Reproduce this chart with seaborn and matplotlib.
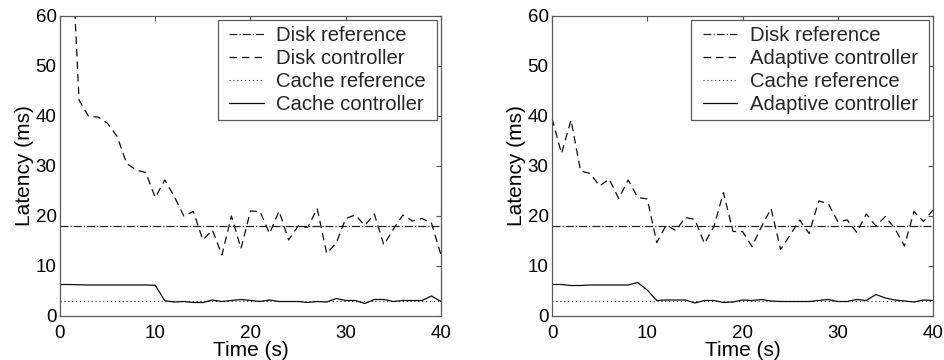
import numpy as np
import pandas as pd
import matplotlib
matplotlib.use("Agg")
import matplotlib.pyplot as plt
from matplotlib.legend_handler import HandlerLine2D
from matplotlib.lines import Line2D
import seaborn as sns

# ---------------- data ----------------
time_s = list(range(0, 41))

disk_ref = 18.0
cache_ref = 3.0

# left panel: separate controllers
disk_ctrl = [130, 83, 43.2, 39.9, 39.8, 38.5, 35.9, 30.5, 29.2, 28.7,
             23.7, 27.2, 23.9, 20.0, 20.9, 15.2, 17.2, 12.2, 20.0, 13.5,
             21.0, 20.9, 16.5, 21.0, 15.2, 18.0, 17.7, 21.5, 12.5, 14.6,
             19.5, 20.2, 18.1, 20.4, 14.2, 17.4, 20.2, 19.0, 19.5, 18.6,
             12.2]
cache_ctrl = [6.3, 6.3, 6.25, 6.2, 6.2, 6.2, 6.2, 6.2, 6.2, 6.2,
              6.15, 3.05, 2.8, 2.9, 2.7, 2.7, 3.2, 2.9, 3.1, 3.3,
              3.1, 2.9, 3.2, 2.9, 2.9, 2.9, 2.7, 2.9, 2.8, 3.5,
              3.1, 3.1, 2.5, 3.3, 3.3, 2.9, 3.1, 3.1, 3.1, 4.0,
              2.9]

# right panel: adaptive controller
adapt_disk = [39.5, 32.5, 39.2, 29.0, 28.5, 26.0, 27.4, 23.5, 27.2, 23.7,
              23.4, 14.7, 18.2, 17.1, 19.7, 19.3, 14.5, 17.9, 24.7, 16.9,
              16.9, 13.9, 17.9, 21.5, 13.3, 16.2, 19.2, 16.5, 23.0, 22.5,
              18.9, 19.2, 16.7, 20.4, 18.0, 19.9, 17.5, 14.0, 20.9, 18.9,
              21.2]
adapt_cache = [6.3, 6.3, 6.1, 6.1, 6.2, 6.2, 6.2, 6.2, 6.2, 6.7,
               5.2, 3.1, 3.2, 3.2, 3.2, 2.6, 3.1, 3.1, 2.7, 2.8,
               3.2, 3.1, 3.3, 3.0, 2.9, 2.9, 2.9, 2.9, 3.1, 3.3,
               2.9, 2.9, 3.3, 3.1, 4.3, 3.6, 3.2, 3.0, 2.8, 3.2,
               3.1]

left_labels = ["Disk reference", "Disk controller", "Cache reference", "Cache controller"]
right_labels = ["Disk reference", "Adaptive controller", "Cache reference", "Adaptive controller"]

x_ticks = [0, 10, 20, 30, 40]
y_ticks = [0, 10, 20, 30, 40, 50, 60]

# ---------------- style ----------------
sns.set_theme(style="white")
plt.rcParams["font.family"] = ["Liberation Sans", "DejaVu Sans"]

FRAME = "0.35"

fig = plt.figure(figsize=(9.45, 3.6), dpi=100)
W, H = 945.0, 360.0
ax_left = fig.add_axes([60 / W, 44 / H, 381 / W, 300 / H])
ax_right = fig.add_axes([552 / W, 44 / H, 381 / W, 300 / H])

styles = ["-.", (0, (6, 4)), (0, (1, 2.5)), "-"]


def draw(ax, disk_series, cache_series, labels):
    t_ends = [time_s[0], time_s[-1]]
    sns.lineplot(x=t_ends, y=[disk_ref, disk_ref], ax=ax, color="0.15",
                 linestyle=styles[0], linewidth=0.9, label=labels[0] + " ")
    sns.lineplot(x=time_s, y=disk_series, ax=ax, color="0.05",
                 linestyle=styles[1], linewidth=0.9, label=labels[1] + " ")
    sns.lineplot(x=t_ends, y=[cache_ref, cache_ref], ax=ax, color="0.2",
                 linestyle=styles[2], linewidth=0.8, label=labels[2] + " ")
    sns.lineplot(x=time_s, y=cache_series, ax=ax, color="0.05",
                 linestyle=styles[3], linewidth=0.9, label=labels[3] + " ")

    ax.set_xlim(0, 40)
    ax.set_ylim(0, 60)
    ax.set_xticks(x_ticks)
    ax.set_yticks(y_ticks)
    ax.tick_params(direction="in", top=True, right=True, length=3.5,
                   width=0.8, color=FRAME, labelsize=13.5, labelcolor="black")
    ax.tick_params(axis="x", pad=6.5)
    ax.tick_params(axis="y", pad=2.5)
    for sp in ax.spines.values():
        sp.set_color(FRAME)
        sp.set_linewidth(0.9)
    ax.set_xlabel("Time (s)", fontsize=15, labelpad=-1, color="black")
    ax.set_ylabel("Latency (ms)", fontsize=15, labelpad=1, color="black")

    leg = ax.legend(loc="upper right", fontsize=14.6, frameon=True,
                    fancybox=False, shadow=False, framealpha=1,
                    borderaxespad=0.2, handlelength=2.0, handletextpad=0.6,
                    borderpad=0.28, labelspacing=0.2,
                    handler_map={Line2D: HandlerLine2D(xpad=0.3)})
    leg.get_frame().set_edgecolor(FRAME)
    leg.get_frame().set_linewidth(0.9)


draw(ax_left, disk_ctrl, cache_ctrl, left_labels)
draw(ax_right, adapt_disk, adapt_cache, right_labels)

fig.savefig("out.png", dpi=100)
